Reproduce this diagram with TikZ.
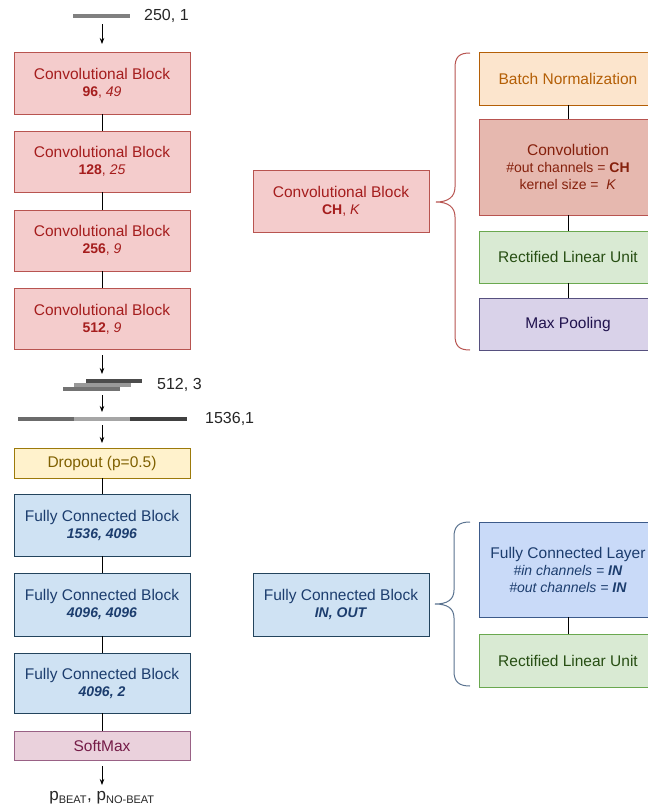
\documentclass[tikz,border=0pt]{standalone}
\usepackage{fontspec}
\setmainfont{Liberation Sans}
\usetikzlibrary{arrows.meta}
\definecolor{convfill}{HTML}{F4CCCC}
\definecolor{convdraw}{HTML}{B85450}
\definecolor{convtext}{HTML}{A51D1D}
\definecolor{cvfill}{HTML}{E6B8AF}
\definecolor{cvtext}{HTML}{85200C}
\definecolor{bnfill}{HTML}{FCE5CD}
\definecolor{bndraw}{HTML}{B45F06}
\definecolor{relufill}{HTML}{D9EAD3}
\definecolor{reludraw}{HTML}{6AA84F}
\definecolor{relutext}{HTML}{274E13}
\definecolor{mpfill}{HTML}{D9D2E9}
\definecolor{mpdraw}{HTML}{56507F}
\definecolor{mptext}{HTML}{20124D}
\definecolor{dofill}{HTML}{FFF2CC}
\definecolor{dodraw}{HTML}{9C7A0A}
\definecolor{dotext}{HTML}{7F6000}
\definecolor{fcfill}{HTML}{CFE2F3}
\definecolor{fcdraw}{HTML}{23445D}
\definecolor{fctext}{HTML}{1C3D6E}
\definecolor{fclfill}{HTML}{C9DAF8}
\definecolor{fcldraw}{HTML}{3C5A8A}
\definecolor{smfill}{HTML}{EAD1DC}
\definecolor{smdraw}{HTML}{996185}
\definecolor{smtext}{HTML}{741B47}
\definecolor{bracered}{HTML}{B85450}
\definecolor{braceblue}{HTML}{5A7390}
\tikzset{
  blk/.style={draw, line width=0.9pt, inner sep=0pt, align=center,
    font=\fontsize{15.5}{18}\selectfont},
  lblk/.style={blk, minimum width=176pt},
  rblk/.style={blk, minimum width=178pt},
  convblk/.style={fill=convfill, draw=convdraw, text=convtext},
  cvblk/.style={fill=cvfill, draw=convdraw, text=cvtext},
  bnblk/.style={fill=bnfill, draw=bndraw, text=bndraw},
  relublk/.style={fill=relufill, draw=reludraw, text=relutext},
  mpblk/.style={fill=mpfill, draw=mpdraw, text=mptext},
  doblk/.style={fill=dofill, draw=dodraw, text=dotext},
  fcblk/.style={fill=fcfill, draw=fcdraw, text=fctext},
  fclblk/.style={fill=fclfill, draw=fcldraw, text=fctext},
  smblk/.style={fill=smfill, draw=smdraw, text=smtext},
  conn/.style={line width=0.8pt, draw=black},
  arr/.style={conn, -{Stealth[length=6pt,width=4.5pt]}},
  bar/.style={line width=4pt},
  dimlbl/.style={anchor=west, inner sep=0pt, text=black!85, font=\fontsize{16}{19}\selectfont},
  bracestyle/.style={line width=1pt},
}
\newcommand{\subl}[1]{{\fontsize{14}{17}\selectfont #1}}
\begin{document}
\begin{tikzpicture}[x=1pt,y=-1pt]
\clip (0,0) rectangle (648,812);
\fill[white] (0,0) rectangle (648,812);

% input bar
\draw[bar, draw=black!50] (73,16) -- (130,16);
\node[dimlbl] (l250) at (144,16) {250, 1};
\coordinate (a1s) at (102,24);
\coordinate (a1e) at (102,44);

% conv blocks
\node[lblk, convblk, minimum height=62pt] (c1) at (102,83) {Convolutional Block\\[-1pt]\subl{\textbf{96}, \textit{49}}};
\node[lblk, convblk, minimum height=61pt] (c2) at (102,161.5) {Convolutional Block\\[-1pt]\subl{\textbf{128}, \textit{25}}};
\node[lblk, convblk, minimum height=61pt] (c3) at (102,240.5) {Convolutional Block\\[-1pt]\subl{\textbf{256}, \textit{9}}};
\node[lblk, convblk, minimum height=61pt] (c4) at (102,319) {Convolutional Block\\[-1pt]\subl{\textbf{512}, \textit{9}}};

\draw[arr] (a1s) -- (a1e);
\draw[conn] (c1) -- (c2);
\draw[conn] (c2) -- (c3);
\draw[conn] (c3) -- (c4);

% 512,3 bars
\coordinate (a2s) at (102,355);
\coordinate (a2e) at (102,374);
\draw[arr] (a2s) -- (a2e);
\draw[bar, line width=4pt, draw=black!70] (86,380.5) -- (142,380.5);
\draw[bar, line width=4pt, draw=black!40] (74,384.5) -- (131,384.5);
\draw[bar, line width=4pt, draw=black!55] (63,388.5) -- (120,388.5);
\node[dimlbl] (l512) at (157,384.5) {512, 3};

\coordinate (a3s) at (102,395);
\coordinate (a3e) at (102,412);
\draw[arr] (a3s) -- (a3e);

% 1536 bar
\draw[bar, draw=black!58] (18,419) -- (74,419);
\draw[bar, draw=black!35] (74,419) -- (130,419);
\draw[bar, draw=black!75] (130,419) -- (187,419);
\node[dimlbl] (l1536) at (205,419) {1536,1};

\coordinate (a4s) at (102,425);
\coordinate (a4e) at (102,443);
\draw[arr] (a4s) -- (a4e);

% dropout and FC
\node[lblk, doblk, minimum height=30pt] (do) at (102,463) {Dropout (p=0.5)};
\node[lblk, fcblk, minimum height=62pt] (f1) at (102,525) {Fully Connected Block\\[-1pt]\subl{\textbf{\textit{1536, 4096}}}};
\node[lblk, fcblk, minimum height=63pt] (f2) at (102,604.5) {Fully Connected Block\\[-1pt]\subl{\textbf{\textit{4096, 4096}}}};
\node[lblk, fcblk, minimum height=60pt] (f3) at (102,683) {Fully Connected Block\\[-1pt]\subl{\textbf{\textit{4096, 2}}}};
\node[lblk, smblk, minimum height=29pt] (sm) at (102,745.5) {SoftMax};
\draw[conn] (do) -- (f1);
\draw[conn] (f1) -- (f2);
\draw[conn] (f2) -- (f3);
\draw[conn] (f3) -- (sm);

\coordinate (a5s) at (102,766);
\coordinate (a5e) at (102,785);
\draw[arr] (a5s) -- (a5e);
\node[inner sep=0pt, text=black!85, font=\fontsize{17}{20}\selectfont] (out) at (102,798)
  {p\textsubscript{\fontsize{11}{12}\selectfont BEAT}, p\textsubscript{\fontsize{11}{12}\selectfont NO-BEAT}};

% right: conv block detail
\node[lblk, convblk, minimum height=62pt] (cb) at (341,201) {Convolutional Block\\[-1pt]\subl{\textbf{CH}, \textit{K}}};
\draw[bracestyle, draw=bracered] (470,53) .. controls (459,53) and (455,57) .. (455,68)
  -- (455,187) .. controls (455,197) and (448,202) .. (436,202)
  .. controls (448,202) and (455,207) .. (455,217)
  -- (455,335) .. controls (455,346) and (459,350) .. (470,350);
\node[rblk, bnblk, minimum height=53pt] (bn) at (568,78.5) {Batch Normalization};
\node[rblk, cvblk, minimum height=96pt] (cv) at (568,167) {Convolution\\[-1pt]\subl{\#out channels = \textbf{CH}}\\[-1pt]\subl{kernel size = \ \textit{K}}};
\node[rblk, relublk, minimum height=52pt] (r1) at (568,257) {Rectified Linear Unit};
\node[rblk, mpblk, minimum height=52pt] (mp) at (568,324) {Max Pooling};
\draw[conn] (bn) -- (cv);
\draw[conn] (cv) -- (r1);
\draw[conn] (r1) -- (mp);

% right: FC block detail
\node[lblk, fcblk, minimum height=63pt] (fcb) at (341,604.5) {Fully Connected Block\\[-1pt]\subl{\textbf{\textit{IN, OUT}}}};
\draw[bracestyle, draw=braceblue] (470,522) .. controls (459,522) and (454,526) .. (454,537)
  -- (454,590) .. controls (454,600) and (447,604) .. (435,604)
  .. controls (447,604) and (454,608) .. (454,618)
  -- (454,671) .. controls (454,682) and (459,686) .. (470,686);
\node[rblk, fclblk, minimum height=95pt] (fcl) at (568,569.5) {Fully Connected Layer\\[-1pt]\subl{\textit{\#in channels = \textbf{IN}}}\\[-1pt]\subl{\textit{\#out channels = \textbf{IN}}}};
\node[rblk, relublk, minimum height=53pt] (r2) at (568,660.5) {Rectified Linear Unit};
\draw[conn] (fcl) -- (r2);
\end{tikzpicture}
\end{document}
